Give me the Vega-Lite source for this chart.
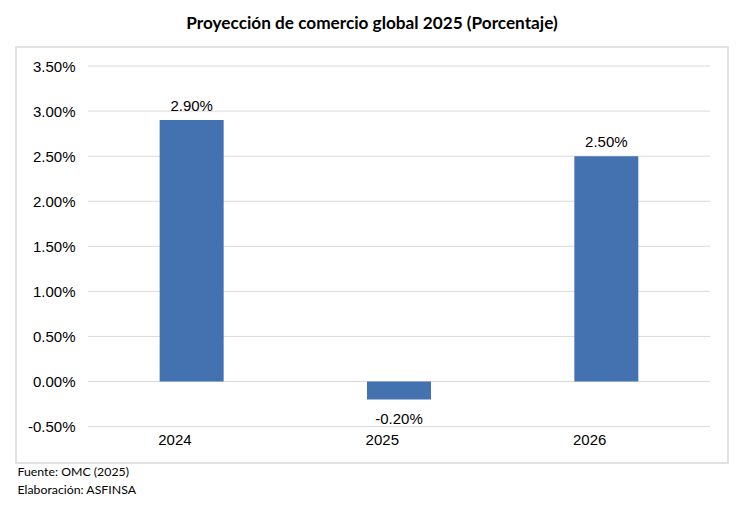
{
  "$schema": "https://vega.github.io/schema/vega-lite/v6.json",
  "width": 712,
  "height": 416,
  "autosize": {"type": "none"},
  "padding": {"left": 16, "top": 47, "right": 22, "bottom": 45},
  "background": "white",
  "title": {
    "text": "Proyección de comercio global 2025 (Porcentaje)",
    "font": "Lato",
    "fontSize": 17.2,
    "fontWeight": "bold",
    "color": "#000000",
    "anchor": "middle",
    "frame": "group",
    "offset": 15
  },
  "config": {
    "view": {"stroke": "#d9d9d9", "strokeWidth": 1.5},
    "locale": {
      "number": {"decimal": ".", "thousands": ",", "grouping": [3], "currency": ["$", ""], "minus": "-"}
    }
  },
  "data": {
    "values": [
      {"year": "2024", "value": 0.029},
      {"year": "2025", "value": -0.002},
      {"year": "2026", "value": 0.025}
    ]
  },
  "layer": [
    {
      "data": {
        "values": [
          {"tick": -0.005}, {"tick": 0.0}, {"tick": 0.005}, {"tick": 0.01},
          {"tick": 0.015}, {"tick": 0.02}, {"tick": 0.025}, {"tick": 0.03}, {"tick": 0.035}
        ]
      },
      "mark": {"type": "rule", "color": "#d9d9d9", "strokeWidth": 1},
      "encoding": {
        "y": {"field": "tick", "type": "quantitative"},
        "x": {"datum": "2024", "type": "nominal", "bandPosition": 0},
        "x2": {"datum": "2026", "bandPosition": 1}
      }
    },
    {
      "mark": {"type": "bar", "size": 64, "color": "#4472B0"},
      "encoding": {
        "x": {
          "field": "year",
          "type": "nominal",
          "sort": null,
          "scale": {"domain": ["2024", "2025", "2026"], "paddingInner": 0, "paddingOuter": 0.217, "align": 0.8},
          "axis": {
            "orient": "bottom",
            "offset": -36,
            "labelAngle": 0,
            "domain": false,
            "ticks": false,
            "labelPadding": 12,
            "labelFont": "Liberation Sans",
            "labelFontSize": 15,
            "labelColor": "#000000",
            "title": ["Fuente: OMC (2025)", "Elaboración: ASFINSA"],
            "titleFont": "Lato",
            "titleFontSize": 12.3,
            "titleFontWeight": "normal",
            "titleColor": "#000000",
            "titleAnchor": "start",
            "titleAlign": "left",
            "titleBaseline": "middle",
            "titleLineHeight": 18,
            "titleX": 1,
            "titleY": 44
          }
        },
        "y": {
          "field": "value",
          "type": "quantitative",
          "scale": {"domain": [-0.00904, 0.03711], "nice": false, "zero": false},
          "axis": {
            "values": [-0.005, 0, 0.005, 0.01, 0.015, 0.02, 0.025, 0.03, 0.035],
            "format": ".2%",
            "grid": false,
            "domain": false,
            "ticks": false,
            "offset": -72,
            "labelPadding": 13,
            "labelFont": "Liberation Sans",
            "labelFontSize": 15,
            "labelColor": "#000000",
            "title": null
          }
        }
      }
    },
    {
      "transform": [{"filter": "datum.value >= 0"}],
      "mark": {"type": "text", "font": "Liberation Sans", "fontSize": 15, "color": "#000000", "baseline": "alphabetic", "dy": -9},
      "encoding": {
        "x": {"field": "year", "type": "nominal", "sort": null},
        "y": {"field": "value", "type": "quantitative"},
        "text": {"field": "value", "type": "quantitative", "format": ".2%"}
      }
    },
    {
      "transform": [{"filter": "datum.value < 0"}],
      "mark": {"type": "text", "font": "Liberation Sans", "fontSize": 15, "color": "#000000", "baseline": "alphabetic", "dy": 24},
      "encoding": {
        "x": {"field": "year", "type": "nominal", "sort": null},
        "y": {"field": "value", "type": "quantitative"},
        "text": {"field": "value", "type": "quantitative", "format": ".2%"}
      }
    }
  ]
}
